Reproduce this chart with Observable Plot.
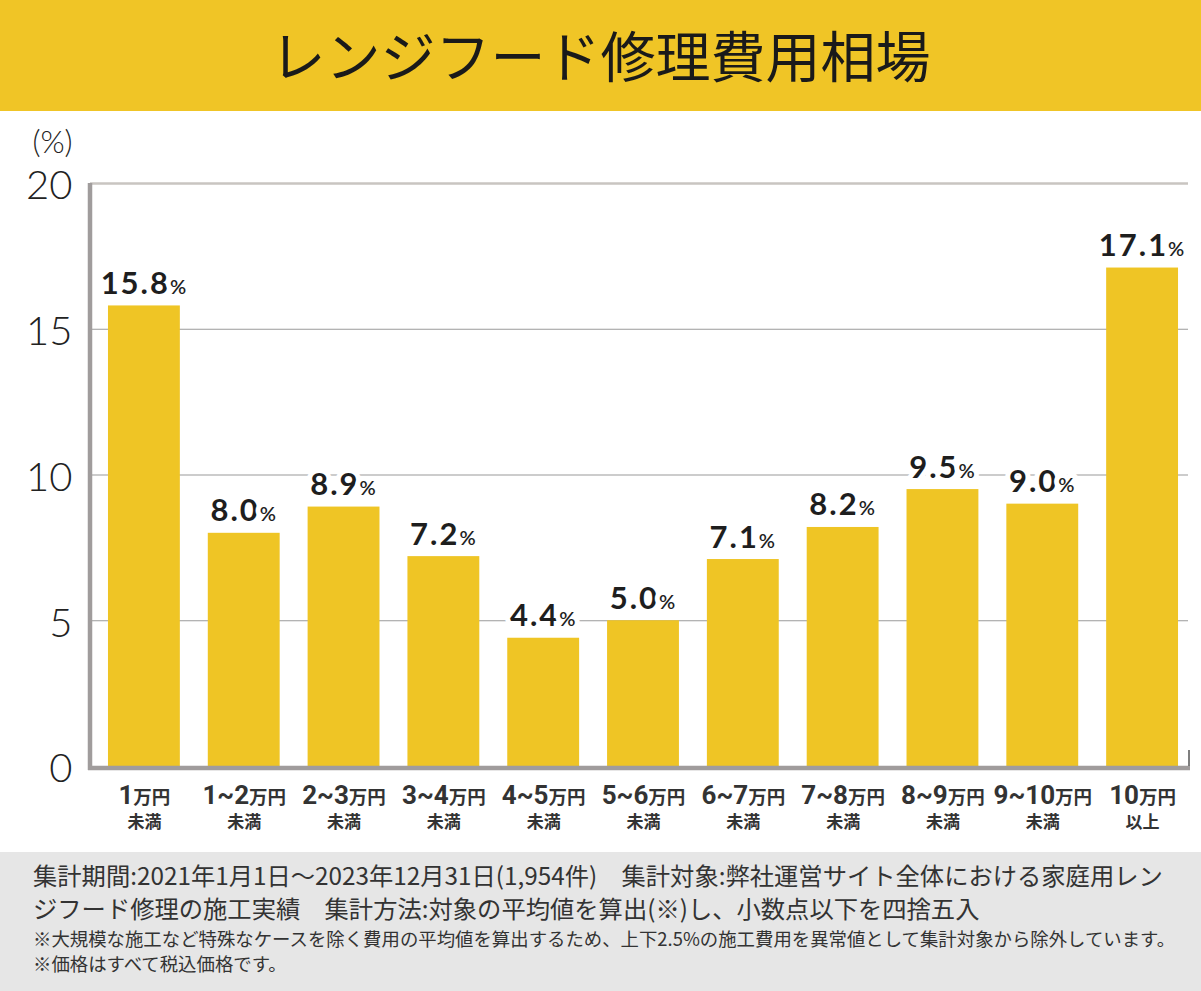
<!DOCTYPE html>
<html>
<head>
<meta charset="utf-8">
<script src="https://cdn.jsdelivr.net/npm/d3@7"></script>
<script src="https://cdn.jsdelivr.net/npm/@observablehq/plot@0.6"></script>
<style>
  html, body { margin: 0; padding: 0; background: #fff; }
  #wrap { width: 1201px; }
  #title { height: 111px; background: #f0c526; display: flex; align-items: center; justify-content: center;
    font-family: "Noto Sans CJK JP", sans-serif; font-weight: 400; font-size: 55px; color: #1a1a1a; }
  #title span { position: relative; top: -3px; }
  #chart svg { display: block; }
  #footer { height: 139px; background: #e6e6e6; box-sizing: border-box; padding: 6px 0 0 33px;
    font-family: "Noto Sans CJK JP", sans-serif; color: #333; white-space: nowrap; }
  #footer .big { font-size: 24.3px; line-height: 33px; }
  #footer .small { font-size: 18.4px; line-height: 25px; margin-top: 2px; }
</style>
</head>
<body>
<div id="wrap">
  <div id="title"><span>レンジフード修理費用相場</span></div>
  <div id="chart"></div>
  <div id="footer">
    <div class="big">集計期間:2021年1月1日～2023年12月31日(1,954件)　集計対象:弊社運営サイト全体における家庭用レン<br>ジフード修理の施工実績　集計方法:対象の平均値を算出(※)し、小数点以下を四捨五入</div>
    <div class="small">※大規模な施工など特殊なケースを除く費用の平均値を算出するため、上下2.5%の施工費用を異常値として集計対象から除外しています。<br>※価格はすべて税込価格です。</div>
  </div>
</div>
<script>
const categories = ["1", "1~2", "2~3", "3~4", "4~5", "5~6", "6~7", "7~8", "8~9", "9~10", "10"];
const unitLabel = "万円";
const suffixes = ["未満", "未満", "未満", "未満", "未満", "未満", "未満", "未満", "未満", "未満", "以上"];
const values = [15.8, 8.0, 8.9, 7.2, 4.4, 5.0, 7.1, 8.2, 9.5, 9.0, 17.1];
const yTicks = [0, 5, 10, 15, 20];
const gridTicks = [5, 10, 15];
const yUnit = "(%)";

const data = categories.map((c, i) => ({cat: c, value: values[i], suffix: suffixes[i]}));

const numFont = "Lato, 'Noto Sans', sans-serif";
const jpFont = "Roboto, 'Noto Sans CJK JP', sans-serif";

const axisLines = (index, scales, values, dim) => {
  const g = d3.create("svg:g");
  const y0 = scales.y(0), yTop = scales.y(20);
  const xl = dim.marginLeft - 4, xr = dim.width - dim.marginRight - 4;
  g.append("line").attr("x1", xl).attr("x2", xl).attr("y1", yTop).attr("y2", y0 + 4)
    .attr("stroke", "#a09c9c").attr("stroke-width", 4.5);
  g.append("line").attr("x1", xl - 2).attr("x2", xr + 2).attr("y1", y0 + 2).attr("y2", y0 + 2)
    .attr("stroke", "#a09c9c").attr("stroke-width", 4.5);
  g.append("line").attr("x1", xr + 1).attr("x2", xr + 1).attr("y1", y0 - 16).attr("y2", y0)
    .attr("stroke", "#555").attr("stroke-width", 1.5);
  return g.node();
};

const chart = Plot.plot({
  width: 1201,
  height: 741,
  marginTop: 72,
  marginBottom: 86,
  marginLeft: 94,
  marginRight: 9,
  x: {domain: categories, paddingInner: 0.28, paddingOuter: 0.14, round: false, axis: null},
  y: {domain: [0, 20], axis: null},
  marks: [
    Plot.ruleY(gridTicks, {y: d => d, dx: -4, stroke: "#9a9a9a", strokeWidth: 1.2}),
    Plot.ruleY([20], {dx: -4, stroke: "#c9c5c1", strokeWidth: 2.5}),
    Plot.barY(data, {x: "cat", y: "value", fill: "#efc525"}),
    axisLines,
    Plot.text(data, {x: "cat", y: "value", text: d => d.value.toFixed(1), dy: -12, lineAnchor: "bottom",
      fontSize: 31, fontWeight: 700, fontFamily: numFont, fill: "#1e1e1e", stroke: "white", strokeWidth: 10,
      paintOrder: "stroke", ariaDescription: "vals"}),
    Plot.text(data, {x: "cat", y: 0, text: d => d.cat, dy: 29, fontSize: 26, fontWeight: 700,
      fontFamily: jpFont, fill: "#333", ariaDescription: "xl1"}),
    Plot.text(data, {x: "cat", y: 0, text: "suffix", dy: 56, fontSize: 17, fontWeight: 700,
      fontFamily: "'Noto Sans CJK JP', sans-serif", fill: "#333"}),
    Plot.text(yTicks, {y: d => d, text: d => String(d), frameAnchor: "left", dx: -22, dy: 3, textAnchor: "end",
      fontSize: 40, fontWeight: 300, fontFamily: numFont, fill: "#222"}),
    Plot.text([yUnit], {text: d => d, frameAnchor: "top-left", dx: -42, dy: -40, lineAnchor: "middle",
      textAnchor: "middle", fontSize: 31, fontWeight: 300, fontFamily: numFont, fill: "#222"})
  ]
});

d3.select(chart).selectAll('[aria-description="vals"] text').each(function () {
  d3.select(this).style("letter-spacing", "2px").append("tspan").attr("font-size", 20).attr("font-weight", 600)
    .attr("dx", 0).text("%");
});
d3.select(chart).selectAll('[aria-description="xl1"] text').each(function () {
  d3.select(this).append("tspan").attr("font-size", 18.5).attr("font-family", "'Noto Sans CJK JP', sans-serif")
    .text(unitLabel);
});

document.getElementById("chart").appendChild(chart);
</script>
</body>
</html>
